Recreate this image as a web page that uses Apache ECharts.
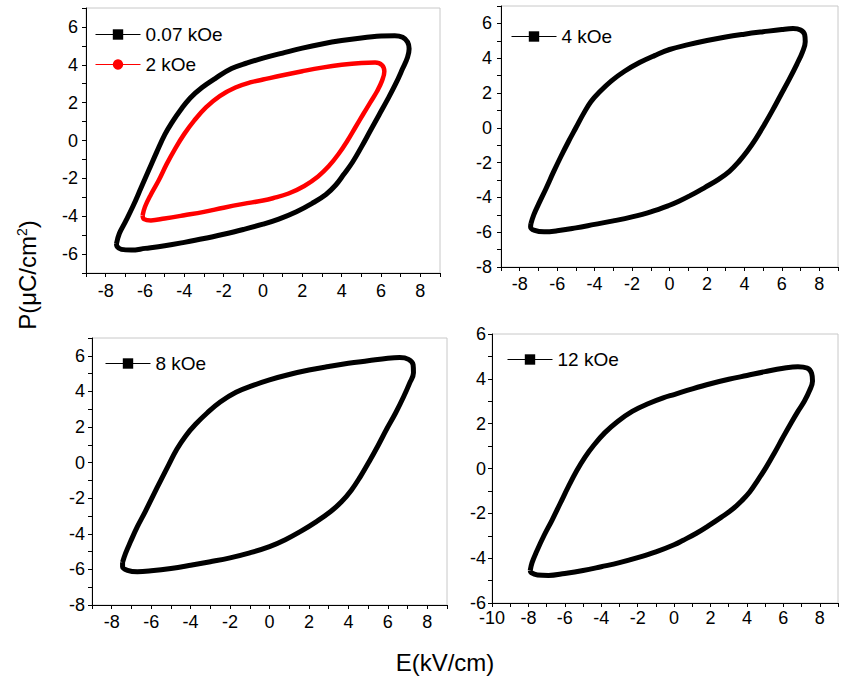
<!DOCTYPE html>
<html><head><meta charset="utf-8">
<script src="https://cdn.jsdelivr.net/npm/echarts@6/dist/echarts.min.js"></script>
<style>html,body{margin:0;padding:0;background:#fff}#c{width:841px;height:684px}</style>
</head><body><div id="c"></div>
<script>
// Series names (legend labels)
const names = ['0.07 kOe', '2 kOe', '4 kOe', '8 kOe', '12 kOe'];

// Hysteresis loops: [E (kV/cm), P (uC/cm^2)]
const loop_0_07kOe = [
  [-7.45,-5.45],[-7.3,-4.9],[-7.0,-4.3],[-6.6,-3.45],[-6.2,-2.5],[-5.8,-1.55],[-5.4,-0.6],[-5.0,0.3],[-4.6,1.0],
  [-4.2,1.6],[-3.7,2.25],[-3.1,2.8],[-2.4,3.3],[-1.6,3.8],[-0.8,4.1],[0,4.35],[1,4.62],[2,4.88],[3,5.1],
  [4,5.28],[5,5.42],[6,5.52],[6.7,5.54],[7.1,5.45],[7.35,5.2],[7.43,4.85],
  [7.35,4.4],[7.1,3.8],[6.75,3.0],[6.35,2.2],[5.9,1.35],[5.45,0.5],[5.0,-0.35],[4.55,-1.15],[4.1,-1.8],
  [3.7,-2.35],[3.2,-2.85],[2.5,-3.32],[1.7,-3.76],[0.8,-4.15],[0,-4.42],[-1,-4.7],[-2,-4.95],[-3,-5.18],[-4,-5.38],
  [-5,-5.56],[-6,-5.7],[-6.7,-5.79],[-7.2,-5.75],[-7.42,-5.6],[-7.45,-5.45]
];
const loop_2kOe = [
  [-6.12,-3.95],[-6.0,-3.5],[-5.7,-2.85],[-5.3,-2.1],[-4.9,-1.25],[-4.45,-0.4],[-4.0,0.35],[-3.5,1.05],
  [-2.9,1.75],[-2.2,2.35],[-1.4,2.8],[-0.6,3.08],[0,3.22],[1,3.45],[2,3.66],[3,3.85],[4,4.0],[5,4.1],
  [5.7,4.12],[6.05,3.98],[6.17,3.65],
  [6.05,3.15],[5.8,2.6],[5.45,2.0],[5.1,1.4],[4.7,0.7],[4.3,0.0],[3.85,-0.7],[3.35,-1.35],[2.8,-1.9],
  [2.1,-2.4],[1.3,-2.8],[0.5,-3.05],[0,-3.17],[-1,-3.35],[-2,-3.55],[-3,-3.77],[-4,-3.95],[-5,-4.12],
  [-5.7,-4.22],[-6.05,-4.15],[-6.12,-3.95]
];
const loop_4kOe = [
  [-7.4,-5.5],[-7.25,-5.0],[-7.0,-4.4],[-6.6,-3.5],[-6.2,-2.55],[-5.8,-1.65],[-5.4,-0.8],[-5.0,0.0],
  [-4.6,0.8],[-4.2,1.5],[-3.7,2.1],[-3.1,2.7],[-2.4,3.25],[-1.6,3.75],[-0.8,4.15],[0,4.5],[1,4.78],
  [2,5.02],[3,5.22],[4,5.38],[5,5.52],[6,5.65],[6.6,5.7],[7.0,5.62],[7.22,5.35],[7.25,4.95],
  [7.1,4.35],[6.8,3.65],[6.4,2.8],[5.95,1.9],[5.5,1.0],[5.05,0.15],[4.6,-0.65],[4.15,-1.35],[3.7,-1.95],
  [3.2,-2.5],[2.6,-2.98],[1.9,-3.42],[1.1,-3.9],[0.5,-4.22],[0,-4.45],[-1,-4.83],[-2,-5.12],[-3,-5.35],[-4,-5.55],
  [-5,-5.75],[-6,-5.92],[-6.7,-5.98],[-7.2,-5.9],[-7.42,-5.7],[-7.4,-5.5]
];
const loop_8kOe = [
  [-7.45,-5.6],[-7.3,-5.1],[-7.05,-4.45],[-6.7,-3.6],[-6.3,-2.75],[-5.9,-1.85],[-5.5,-0.97],[-5.1,-0.1],
  [-4.7,0.75],[-4.25,1.5],[-3.75,2.15],[-3.15,2.8],[-2.5,3.4],[-1.7,3.95],[-0.8,4.35],[0,4.65],[1,4.95],
  [2,5.2],[3,5.4],[4,5.58],[5,5.72],[6,5.86],[6.6,5.9],[7.05,5.8],[7.28,5.5],[7.3,5.05],
  [7.1,4.45],[6.8,3.7],[6.4,2.8],[5.95,1.9],[5.5,0.95],[5.05,0.05],[4.6,-0.8],[4.15,-1.55],[3.65,-2.2],
  [3.1,-2.75],[2.4,-3.3],[1.6,-3.85],[0.8,-4.33],[0,-4.72],[-1,-5.07],[-2,-5.35],[-3,-5.57],[-4,-5.77],
  [-5,-5.95],[-6,-6.08],[-6.7,-6.13],[-7.2,-6.05],[-7.45,-5.85],[-7.45,-5.6]
];
const loop_12kOe = [
  [-7.9,-4.55],[-7.8,-4.2],[-7.55,-3.7],[-7.15,-3.0],[-6.7,-2.3],[-6.25,-1.55],[-5.8,-0.8],[-5.35,-0.1],
  [-4.9,0.5],[-4.4,1.05],[-3.8,1.6],[-3.1,2.1],[-2.3,2.55],[-1.4,2.9],[-0.6,3.15],[0,3.3],[1,3.55],
  [2,3.78],[3,3.98],[4,4.15],[5,4.32],[6,4.47],[6.8,4.54],[7.3,4.48],[7.55,4.25],[7.6,3.9],
  [7.45,3.5],[7.15,3.0],[6.8,2.55],[6.4,2.0],[5.95,1.35],[5.5,0.68],[5.05,0.05],[4.6,-0.52],[4.15,-1.05],
  [3.7,-1.45],[3.2,-1.82],[2.6,-2.17],[1.9,-2.55],[1.2,-2.9],[0.5,-3.2],[0,-3.4],[-1,-3.72],[-2,-3.98],
  [-3,-4.2],[-4,-4.38],[-5,-4.55],[-6,-4.68],[-6.9,-4.77],[-7.5,-4.75],[-7.85,-4.65],[-7.9,-4.55]
];

// Axis ranges per panel
const xRanges = [[-9, 9], [-9, 9], [-9, 9], [-10, 9]];
const yRanges = [[-7, 7], [-8, 7], [-8, 7], [-6, 6]];

const FONT = 'Arial, "Liberation Sans", sans-serif';
const grids = [
  {left: 86, top: 8, width: 354, height: 265},
  {left: 501, top: 6, width: 351, height: 261},
  {left: 92, top: 338, width: 355, height: 267},
  {left: 492, top: 334, width: 354, height: 269}
];
const xLabelMargin = [9, 8, 8, 6];
const yLabelMargin = [8, 9, 7, 6];

function axis(i, range, margin) {
  return {
    type: 'value', gridIndex: i, min: range[0], max: range[1], interval: 1,
    axisLine: {show: true, onZero: false, lineStyle: {color: '#000', width: 1}},
    axisTick: {show: true, inside: false, length: 4, lineStyle: {color: '#000'}},
    axisLabel: {formatter: v => (v % 2 === 0 ? String(v) : ''), color: '#000', fontSize: 18, fontFamily: FONT, margin},
    splitLine: {show: false}
  };
}

const chart = echarts.init(document.getElementById('c'), null, {renderer: 'svg'});
const lineSeries = (name, data, idx, color, symbol, width) => ({
  name, type: 'line', data, xAxisIndex: idx, yAxisIndex: idx,
  smooth: 0.4, showSymbol: false, symbol, symbolSize: 10,
  lineStyle: {color, width}, itemStyle: {color}, clip: false
});
const legendBase = {
  orient: 'vertical', padding: 0, itemWidth: 45, itemHeight: 13, itemGap: 11,
  textStyle: {fontSize: 19, fontFamily: FONT, color: '#000'},
  lineStyle: {width: 1}
};

chart.setOption({
  animation: false,
  backgroundColor: '#fff',
  grid: grids.map(g => Object.assign({show: true, borderColor: '#c8c8c8', borderWidth: 1, backgroundColor: 'transparent'}, g)),
  xAxis: xRanges.map((r, i) => axis(i, r, xLabelMargin[i])),
  yAxis: yRanges.map((r, i) => axis(i, r, yLabelMargin[i])),
  legend: [
    Object.assign({}, legendBase, {data: [names[0], names[1]], left: 95, top: 25}),
    Object.assign({}, legendBase, {data: [names[2]], left: 511, top: 27}),
    Object.assign({}, legendBase, {data: [names[3]], left: 105, top: 354}),
    Object.assign({}, legendBase, {data: [names[4]], left: 507, top: 350})
  ],
  series: [
    lineSeries(names[0], loop_0_07kOe, 0, '#000000', 'rect', 5),
    lineSeries(names[1], loop_2kOe, 0, '#ff0000', 'circle', 4.5),
    lineSeries(names[2], loop_4kOe, 1, '#000000', 'rect', 5),
    lineSeries(names[3], loop_8kOe, 2, '#000000', 'rect', 5),
    lineSeries(names[4], loop_12kOe, 3, '#000000', 'rect', 5)
  ],
  graphic: [
    {type: 'text', x: 445, y: 662, style: {text: 'E(kV/cm)', font: '24px ' + FONT, fill: '#000', align: 'center', verticalAlign: 'middle'}},
    {type: 'text', x: 27, y: 275, rotation: Math.PI / 2,
     style: {text: 'P(μC/cm{sup|2})', font: '24px ' + FONT, fill: '#000', align: 'center', verticalAlign: 'middle',
             rich: {sup: {fontSize: 14, fontFamily: FONT, verticalAlign: 'top', fill: '#000'}}}}
  ]
});
</script>
</body></html>
